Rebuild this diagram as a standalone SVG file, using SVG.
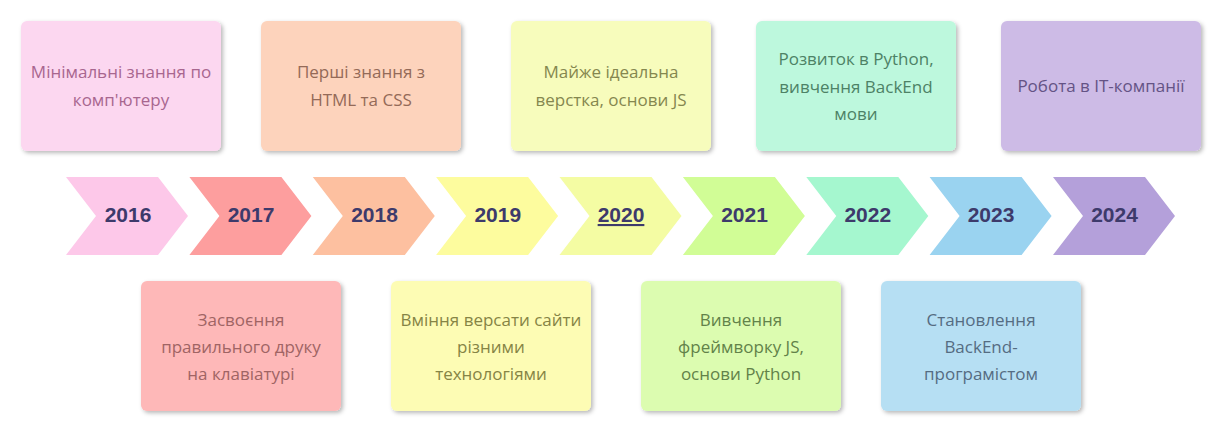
<svg xmlns="http://www.w3.org/2000/svg" width="1228" height="435" viewBox="0 0 1228 435">
<defs>
<filter id="sh" x="-10%" y="-10%" width="125%" height="130%">
<feDropShadow dx="2" dy="2" stdDeviation="2" flood-color="#000" flood-opacity="0.28"/>
</filter>
<polygon id="chev" points="0,177 92,177 122,216 92,255 0,255 30,216"/>
</defs>
<style>
.box{filter:url(#sh)}
.t{font-family:"Open Sans","Noto Sans","DejaVu Sans",sans-serif;font-size:17px;text-anchor:middle}
.y{font-family:"Liberation Sans",Arial,sans-serif;font-size:21px;font-weight:bold;fill:#3d3a6b;text-anchor:middle}
</style>
<rect width="1228" height="435" fill="#fff"/>
<g id="timeline">
<g id="y2016"><use href="#chev" x="66" fill="#fdc8e9"/><text class="y" x="128" y="222">2016</text></g>
<g id="y2017"><use href="#chev" x="189.4" fill="#fd9e9e"/><text class="y" x="251" y="222">2017</text></g>
<g id="y2018"><use href="#chev" x="312.8" fill="#fdc0a0"/><text class="y" x="374.5" y="222">2018</text></g>
<g id="y2019"><use href="#chev" x="436.1" fill="#fdfc9e"/><text class="y" x="497.8" y="222">2019</text></g>
<g id="y2020"><use href="#chev" x="559.5" fill="#f4fca3"/><text class="y" x="621" y="222" text-decoration="underline">2020</text></g>
<g id="y2021"><use href="#chev" x="682.9" fill="#d1fd96"/><text class="y" x="744.5" y="222">2021</text></g>
<g id="y2022"><use href="#chev" x="806.3" fill="#a5f7cf"/><text class="y" x="867.8" y="222">2022</text></g>
<g id="y2023"><use href="#chev" x="929.6" fill="#9ad3f0"/><text class="y" x="991" y="222">2023</text></g>
<g id="y2024"><use href="#chev" x="1053" fill="#b4a0da"/><text class="y" x="1114.5" y="222">2024</text></g>
</g>
<g id="connectors"></g>
<g id="n1"><rect class="box" x="21" y="21" width="200" height="130" rx="6" fill="#fcd7f0"/>
<text class="t" fill="#a8668f"><tspan x="121" y="78">Мінімальні знання по</tspan><tspan x="121" y="106">комп'ютеру</tspan></text></g>
<g id="n2"><rect class="box" x="261" y="21" width="200" height="130" rx="6" fill="#fdd3bc"/>
<text class="t" fill="#946a58"><tspan x="361" y="78">Перші знання з</tspan><tspan x="361" y="106">HTML та CSS</tspan></text></g>
<g id="n3"><rect class="box" x="511" y="21" width="200" height="130" rx="6" fill="#f7fcbc"/>
<text class="t" fill="#85874f"><tspan x="611" y="78">Майже ідеальна</tspan><tspan x="611" y="106">верстка, основи JS</tspan></text></g>
<g id="n4"><rect class="box" x="756" y="21" width="200" height="130" rx="6" fill="#bdf8dd"/>
<text class="t" fill="#4d8266"><tspan x="856" y="65">Розвиток в Python,</tspan><tspan x="856" y="93">вивчення BackEnd</tspan><tspan x="856" y="120">мови</tspan></text></g>
<g id="n5"><rect class="box" x="1001" y="21" width="200" height="130" rx="6" fill="#cdbbe6"/>
<text class="t" fill="#645385"><tspan x="1101" y="92">Робота в IT-компанії</tspan></text></g>
<g id="n6"><rect class="box" x="141" y="281" width="200" height="130" rx="6" fill="#feb8b8"/>
<text class="t" fill="#a06464"><tspan x="241" y="326">Засвоєння</tspan><tspan x="241" y="353">правильного друку</tspan><tspan x="241" y="380">на клавіатурі</tspan></text></g>
<g id="n7"><rect class="box" x="391" y="281" width="200" height="130" rx="6" fill="#fdfcb4"/>
<text class="t" fill="#868445"><tspan x="491" y="326">Вміння версати сайти</tspan><tspan x="491" y="353">різними</tspan><tspan x="491" y="380">технологіями</tspan></text></g>
<g id="n8"><rect class="box" x="641" y="281" width="200" height="130" rx="6" fill="#dcfcb0"/>
<text class="t" fill="#628249"><tspan x="741" y="326">Вивчення</tspan><tspan x="741" y="353">фреймворку JS,</tspan><tspan x="741" y="380">основи Python</tspan></text></g>
<g id="n9"><rect class="box" x="881" y="281" width="200" height="130" rx="6" fill="#b6dff3"/>
<text class="t" fill="#556c82"><tspan x="981" y="326">Становлення</tspan><tspan x="981" y="353">BackEnd-</tspan><tspan x="981" y="380">програмістом</tspan></text></g>
</svg>
